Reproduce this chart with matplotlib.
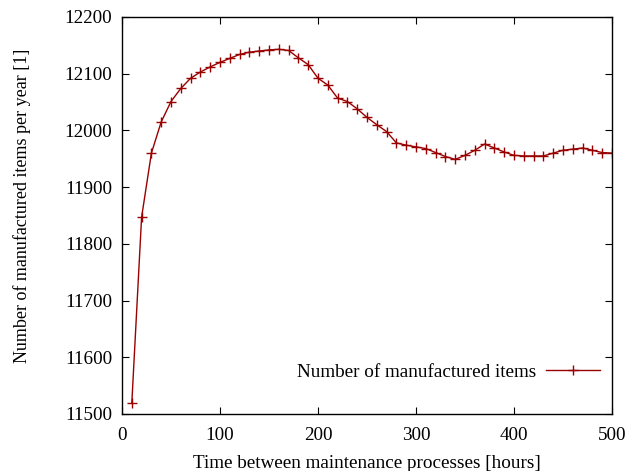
import matplotlib
matplotlib.use("Agg")
import matplotlib.pyplot as plt

hours = list(range(10, 501, 10))
items = [11519, 11847, 11960, 12015, 12051, 12074, 12092, 12103, 12112, 12120,
         12127, 12134, 12138, 12140, 12142, 12143, 12141, 12128, 12116, 12092,
         12080, 12057, 12051, 12038, 12023, 12010, 11998, 11978, 11974, 11971,
         11968, 11961, 11954, 11949, 11956, 11965, 11976, 11969, 11962, 11956,
         11955, 11955, 11955, 11960, 11965, 11967, 11969, 11965, 11961, 11960]

xticks = [0, 100, 200, 300, 400, 500]
yticks = [11500, 11600, 11700, 11800, 11900, 12000, 12100, 12200]

plt.rcParams['font.family'] = ['Liberation Serif', 'DejaVu Serif']
plt.rcParams['font.size'] = 13.8

fig = plt.figure(figsize=(6.38, 4.71), dpi=100)
ax = fig.add_axes([122/638, 57/471, 490/638, 397/471])

ax.plot(hours, items, color='#990000', linewidth=1.0, marker='+',
        markersize=7.5, markeredgewidth=1.0, label='Number of manufactured items')

ax.set_xlim(0, 500)
ax.set_ylim(11500, 12200)
ax.set_xticks(xticks)
ax.set_yticks(yticks)
ax.tick_params(direction='in', top=True, right=True, length=5, width=0.8)
ax.tick_params(axis='x', pad=9)
ax.tick_params(axis='y', pad=7)
for s in ax.spines.values():
    s.set_linewidth(1.0)

ax.set_xlabel('Time between maintenance processes [hours]', labelpad=8)
ax.set_ylabel('Number of manufactured items per year [1]', fontsize=13.0)
ax.yaxis.set_label_coords(-0.186, 0.524)

ax.legend(loc='lower right', frameon=False, markerfirst=False, handlelength=2.8,
          numpoints=1, bbox_to_anchor=(1.01, 0.04), handletextpad=0.5)

fig.savefig('out.png', dpi=100)
